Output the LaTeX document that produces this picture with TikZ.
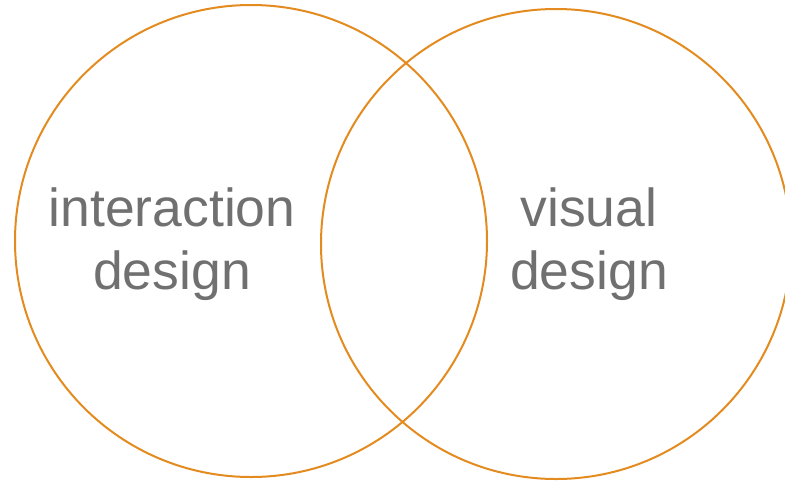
\documentclass[tikz,border=0pt]{standalone}
\usepackage{fontspec}
\setmainfont{Liberation Sans}
\usepackage{tikz}
\usetikzlibrary{positioning}
\usepackage{xcolor}
\definecolor{ringorange}{RGB}{227,139,31}
\definecolor{labelgray}{RGB}{112,112,112}

\begin{document}
\begin{tikzpicture}[x=1pt, y=-1pt,
	ring/.style={circle, draw=ringorange, line width=2pt, inner sep=0pt, minimum size=#1},
	label text/.style={text=labelgray, align=center, font=\fontsize{53.5}{63}\selectfont}]
	\useasboundingbox (0,0) rectangle (785,483);
	\node[ring=472pt] (interaction) at (251,241) {};
	\node[ring=470pt] (visual) at (556,244) {};
	\node[label text] (interactionlabel) at (172,244) {interaction\\design};
	\node[label text] (visuallabel) at (589,244) {visual\\design};
\end{tikzpicture}
\end{document}
